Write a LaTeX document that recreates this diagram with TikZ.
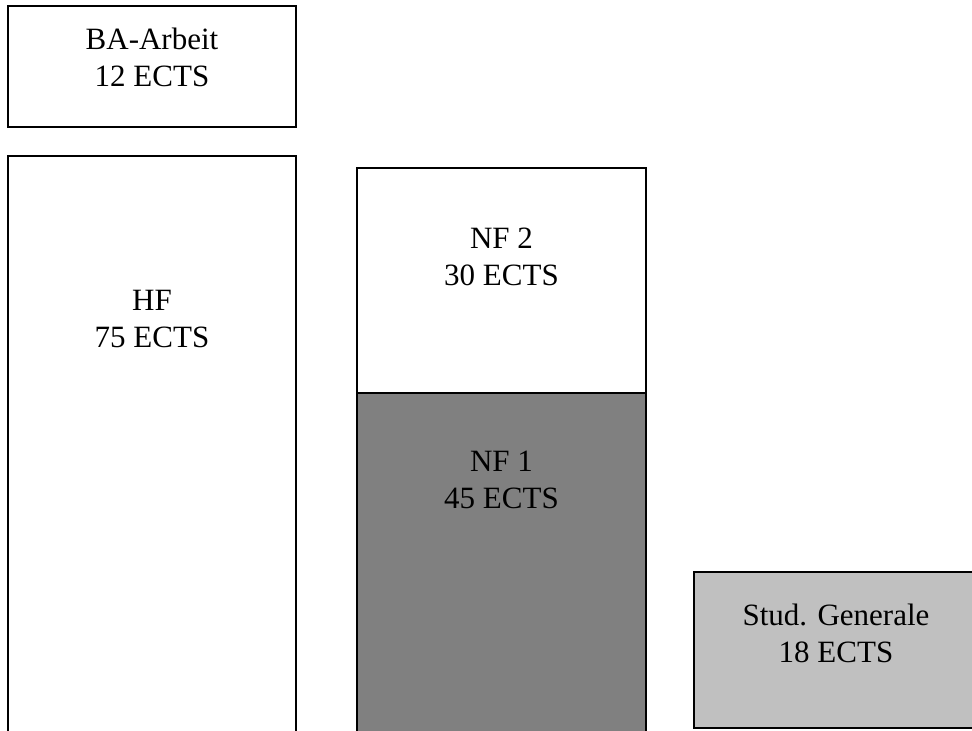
\documentclass[tikz,border=0pt]{standalone}
\usepackage{fontspec}
\setmainfont{Liberation Serif}
\definecolor{nfdark}{HTML}{808080}
\definecolor{sglight}{HTML}{C0C0C0}
\begin{document}
\begin{tikzpicture}[x=1pt,y=-1pt,
  box/.style={draw=black, line width=1.3pt, inner sep=0pt, outer sep=0pt, anchor=north west},
  lbl/.style={align=center, inner sep=0pt, anchor=base, font=\fontsize{31}{37}\selectfont}]
\clip (0,0) rectangle (972,731);
\fill[white] (0,0) rectangle (972,731);
\node[box, minimum width=288pt, minimum height=121pt] (ba) at (8,6) {};
\node[box, minimum width=288pt, minimum height=620pt] (hf) at (8,156) {};
\node[box, minimum width=289pt, minimum height=225pt] (nf2) at (357,168) {};
\node[box, fill=nfdark, minimum width=289pt, minimum height=380pt] (nf1) at (357,393) {};
\node[box, fill=sglight, minimum width=288pt, minimum height=156pt] (sg) at (694,572) {};
\node[lbl] (batext) at ([yshift=-80pt]ba.north) {BA-Arbeit\\12 ECTS};
\node[lbl] (hftext) at ([yshift=-191pt]hf.north) {HF\\75 ECTS};
\node[lbl] (nf2text) at ([yshift=-117pt]nf2.north) {NF 2\\30 ECTS};
\node[lbl] (nf1text) at ([yshift=-115pt]nf1.north) {NF 1\\45 ECTS};
\node[lbl] (sgtext) at ([yshift=-90pt,xshift=-2pt]sg.north) {Stud. Generale\\18 ECTS};
\end{tikzpicture}
\end{document}
